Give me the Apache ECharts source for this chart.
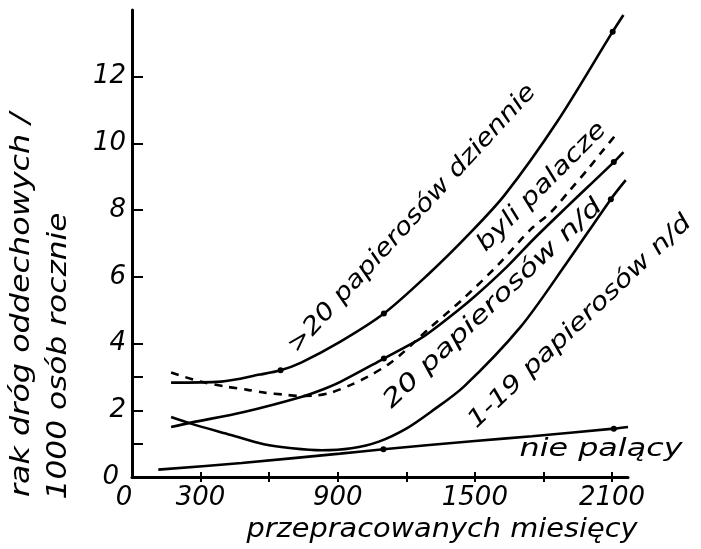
<!DOCTYPE html>
<html>
<head>
<meta charset="utf-8">
<script src="https://cdn.jsdelivr.net/npm/echarts@6/dist/echarts.min.js"></script>
<style>
  html, body { margin: 0; padding: 0; background: #fff; }
  #chart { width: 701px; height: 549px; }
</style>
</head>
<body>
<div id="chart"></div>
<script>
// Axis ticks and labels
const xTicks = [300, 600, 900, 1200, 1500, 1800, 2100];
const xLabels = [0, 300, 900, 1500, 2100];
const yTicks = [1, 2, 3, 4, 6, 8, 10, 12];
const yLabels = [0, 2, 4, 6, 8, 10, 12];

// Incidence per 1000 persons yearly vs. months worked: [months, rate]
const heavySmokers = [[171, 2.83], [390, 2.86], [560, 3.07], [650, 3.2], [740, 3.43], [910, 4.05], [1102, 4.9], [1300, 6.1], [1470, 7.25], [1630, 8.45], [1860, 10.65], [2103, 13.35], [2150, 13.85]];
const heavyDots = [3, 6, 11];

const formerSmokers = [[171, 3.13], [300, 2.86], [410, 2.71], [500, 2.62], [580, 2.53], [665, 2.47], [730, 2.43], [800, 2.44], [870, 2.53], [960, 2.77], [1030, 3.0], [1120, 3.37], [1176, 3.67], [1300, 4.45], [1450, 5.35], [1600, 6.35], [1745, 7.43], [1833, 7.94], [1920, 8.63], [1995, 9.23], [2065, 9.83], [2128, 10.35]];
const formerDots = [];

const smokers20 = [[171, 1.5], [258, 1.63], [490, 1.95], [740, 2.4], [840, 2.64], [914, 2.86], [1102, 3.55], [1251, 4.1], [1307, 4.36], [1480, 5.3], [1640, 6.3], [1760, 7.15], [1906, 8.12], [2108, 9.44], [2150, 9.74]];
const smokers20Dots = [6, 13];

const smokers119 = [[171, 1.8], [258, 1.6], [433, 1.26], [577, 0.98], [700, 0.86], [830, 0.8], [960, 0.86], [1080, 1.06], [1200, 1.45], [1307, 1.95], [1452, 2.71], [1700, 4.5], [1900, 6.4], [2095, 8.33], [2160, 8.9]];
const smokers119Dots = [13];

const nonSmokers = [[115, 0.22], [480, 0.42], [910, 0.7], [1100, 0.83], [1500, 1.08], [1750, 1.22], [2108, 1.45], [2170, 1.5]];
const nonSmokersDots = [3, 6];

// Hand-lettered captions along the curves: text, centre (px), angle (deg), length (px)
const captions = [
  { text: '>20 papierosów dziennie', x: 412, y: 219, angle: 47.5, len: 355 },
  { text: 'byli palacze', x: 542, y: 187, angle: 45, len: 172 },
  { text: '20 papierosów n/d', x: 493, y: 304, angle: 43.5, len: 292 },
  { text: '1-19 papierosów n/d', x: 580, y: 322, angle: 43.5, len: 298 },
  { text: 'nie palący', x: 601, y: 450, angle: 0, len: 163 }
];
const yTitle1 = 'rak dróg oddechowych /';
const yTitle2 = '1000 osób rocznie';
const xTitle = 'przepracowanych miesięcy';

const FONT = '"DejaVu Sans", sans-serif';
const INK = '#000';

const measure = (() => {
  const ctx = document.createElement('canvas').getContext('2d');
  return (text, size) => {
    ctx.font = 'italic ' + size + 'px ' + FONT;
    return ctx.measureText(text).width;
  };
})();

function lettering(text, x, y, angleDeg, len, size) {
  return {
    type: 'text',
    x: x, y: y,
    rotation: angleDeg * Math.PI / 180,
    scaleX: len / measure(text, size),
    silent: true,
    style: {
      text: text,
      fontFamily: FONT,
      fontStyle: 'italic',
      fontSize: size,
      fill: INK,
      align: 'center',
      verticalAlign: 'middle'
    }
  };
}

function curve(points, dots, dashed) {
  return {
    type: 'line',
    xAxisIndex: 0,
    smooth: 0.3,
    symbol: 'none',
    showSymbol: true,
    silent: true,
    lineStyle: { color: INK, width: 2.6, type: dashed ? [8, 7] : 'solid' },
    itemStyle: { color: INK },
    data: points.map((p, i) => dots.includes(i)
      ? { value: p, symbol: 'circle', symbolSize: 6 }
      : { value: p })
  };
}

const tickFont = { fontFamily: FONT, fontStyle: 'italic', fontSize: 26, color: INK };

const chart = echarts.init(document.getElementById('chart'), null, { renderer: 'canvas' });
chart.setOption({
  animation: false,
  backgroundColor: '#fff',
  grid: { left: 132, top: 10, width: 496, height: 467, containLabel: false },
  xAxis: [
    {
      type: 'value', min: 0, max: 2170,
      axisLine: { show: true, lineStyle: { color: INK, width: 3 } },
      axisTick: { show: true, customValues: xTicks, length: 5, lineStyle: { color: INK, width: 2 } },
      axisLabel: Object.assign({
        customValues: xLabels, margin: 8,
        formatter: v => v === 0 ? '{o|0}' : String(v),
        rich: { o: Object.assign({ padding: [0, 16, 0, 0] }, tickFont) }
      }, tickFont),
      splitLine: { show: false }
    },
    {
      type: 'value', min: 0, max: 2170, position: 'bottom',
      axisLine: { show: false },
      axisTick: { show: true, inside: true, customValues: xTicks, length: 5, lineStyle: { color: INK, width: 2 } },
      axisLabel: { show: false },
      splitLine: { show: false }
    }
  ],
  yAxis: {
    type: 'value', min: 0, max: 14,
    axisLine: { show: true, lineStyle: { color: INK, width: 3 } },
    axisTick: { show: true, inside: true, customValues: yTicks, length: 11, lineStyle: { color: INK, width: 2 } },
    axisLabel: Object.assign({
      customValues: yLabels, margin: 6,
      formatter: v => v === 0 ? '{o|0}' : String(v),
      rich: { o: Object.assign({ padding: [0, 7, 0, 0] }, tickFont) }
    }, tickFont),
    splitLine: { show: false }
  },
  series: [
    curve(heavySmokers, heavyDots, false),
    curve(formerSmokers, formerDots, true),
    curve(smokers20, smokers20Dots, false),
    curve(smokers119, smokers119Dots, false),
    curve(nonSmokers, nonSmokersDots, false)
  ],
  graphic: [
    ...captions.map(c => lettering(c.text, c.x, c.y, c.angle, c.len, 24)),
    lettering(yTitle1, 22, 305, 90, 384, 27),
    lettering(yTitle2, 59, 356, 90, 287, 27),
    lettering(xTitle, 442, 530, 0, 391, 26)
  ]
});
</script>
</body>
</html>
